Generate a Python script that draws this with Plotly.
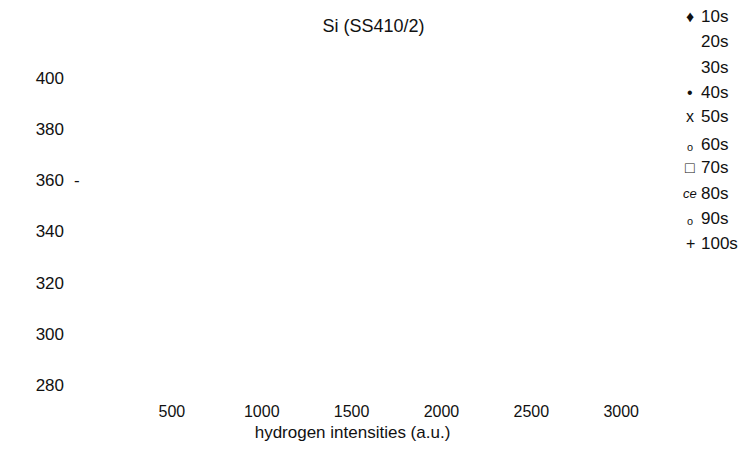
import plotly.graph_objects as go

# Series names and the glyph each one carries in the key
series_names = ["10s", "20s", "30s", "40s", "50s", "60s", "70s", "80s", "90s", "100s"]
series_glyphs = ["\u2666", "", "", "\u2022", "x", "\u2092", "\u25a1", "<i>ce</i>", "\u2092", "+"]

x_ticks = [500, 1000, 1500, 2000, 2500, 3000]
y_ticks = [280, 300, 320, 340, 360, 380, 400]

W, H = 743, 453
ML, MR, MT, MB = 82, 120, 52, 53
FAMILY = "Liberation Sans, Arial, sans-serif"
INK = "#111"


def font(size):
    return dict(family=FAMILY, size=size, color=INK)


fig = go.Figure()

# One empty trace per series (no measurements plotted)
for name in series_names:
    fig.add_trace(go.Scatter(x=[], y=[], mode="markers", name=name, showlegend=False))

plot_w = W - ML - MR
plot_h = H - MT - MB


def px_x(p):
    return (p - ML) / plot_w


def px_y(p):
    return (H - MB - p) / plot_h


# Key: glyph column + label column
key_rows_px = [17, 42, 67, 92, 116, 144, 167, 193, 218, 243]
for glyph, name, ypx in zip(series_glyphs, series_names, key_rows_px):
    if glyph:
        fig.add_annotation(
            text=glyph, xref="paper", yref="paper",
            x=px_x(690), y=px_y(ypx), xanchor="center", yanchor="middle",
            showarrow=False, font=font(13 if "ce" in glyph else 16),
        )
    fig.add_annotation(
        text=name, xref="paper", yref="paper",
        x=px_x(699), y=px_y(ypx), xanchor="left", yanchor="middle",
        showarrow=False, font=font(17),
    )

# stray dash beside the 360 label
fig.add_annotation(text="-", xref="paper", yref="y", x=px_x(76.5), y=360,
                   xanchor="center", yanchor="middle", showarrow=False, font=font(17))

fig.update_layout(
    width=W, height=H,
    margin=dict(l=ML, r=MR, t=MT, b=MB),
    paper_bgcolor="white", plot_bgcolor="white",
    font=font(16),
    title=dict(text="Si (SS410/2)", x=373.5 / W, xanchor="center",
               y=1 - 26 / H, yanchor="middle", yref="container", font=font(18)),
    showlegend=False,
)
fig.update_xaxes(
    range=[0, 3010], tickvals=x_ticks, ticktext=[str(v) for v in x_ticks],
    showgrid=False, zeroline=False, showline=False, ticks="",
    tickfont=font(16),
    title=dict(text="hydrogen intensities (a.u.)", standoff=7, font=font(17)),
)
fig.update_yaxes(
    range=[274.1, 410.2], tickvals=y_ticks, ticktext=[str(v) for v in y_ticks],
    showgrid=False, zeroline=False, showline=False, ticks="",
    tickfont=font(17), ticklabelstandoff=17,
)

fig.write_html("out.html")
